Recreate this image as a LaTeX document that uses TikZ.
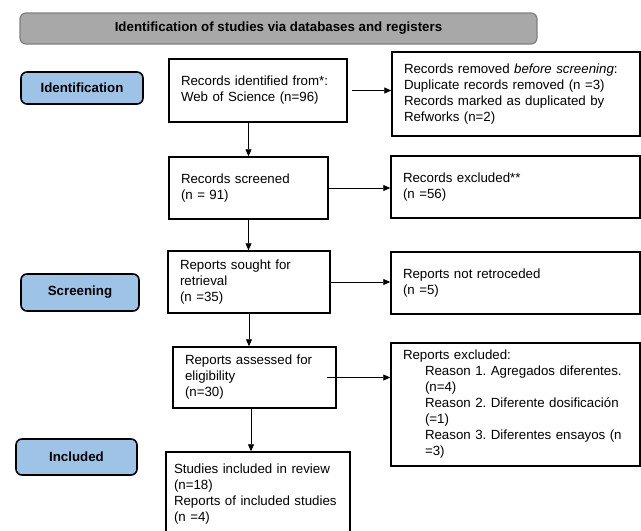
\documentclass[tikz,border=0pt]{standalone}
\usepackage{fontspec}
\setmainfont{Liberation Sans}
\frenchspacing
\usetikzlibrary{arrows.meta,positioning,calc}
\definecolor{prisma-blue}{HTML}{9DC3E6}
\definecolor{prisma-grey}{HTML}{A8A8A8}
\definecolor{prisma-edge}{HTML}{808080}

\begin{document}
\begin{tikzpicture}[x=1pt, y=-1pt, font=\fontsize{13.3}{16}\selectfont,
    recbox/.style={draw, line width=1.5pt, align=left, inner xsep=12pt, inner ysep=3pt},
    phase/.style={draw, line width=1.6pt, rounded corners=6pt, fill=prisma-blue, font=\fontsize{13.3}{16}\selectfont\bfseries},
    banner/.style={draw=prisma-edge, line width=1.2pt, rounded corners=6pt, fill=prisma-grey, font=\fontsize{13.3}{16}\selectfont\bfseries},
    flow/.style={-{Triangle[length=7pt,width=6pt]}, line width=0.9pt}]

    \useasboundingbox (0,0) rectangle (641,531);
    \clip (0,0) rectangle (641,531);

    \node[banner, minimum width=517pt, minimum height=31pt] (head) at (278.5,28.5) {Identification of studies via databases and registers};

    \node[phase, minimum width=122pt, minimum height=32pt] (identification) at (82,88) {Identification};
    \node[phase, minimum width=118pt, minimum height=37pt] (screening) at (80,292.5) {Screening};
    \node[phase, minimum width=121pt, minimum height=36pt] (included) at (76.5,457) {Included};

    \node[recbox, text width=154pt, minimum height=63pt] (found) at (258,90.5) {Records identified from*:\\ Web of Science (n=96)};
    \node[recbox, text width=224pt, minimum height=84pt] (removed) at (516,94) {Records removed \emph{before screening}:\\ Duplicate records removed (n =3)\\ Records marked as duplicated by\\ Refworks (n=2)};

    \node[recbox, text width=135pt, minimum height=62pt] (screened) at (248.5,188) {Records screened\\ (n = 91)};
    \node[recbox, text width=225pt, minimum height=62pt] (excluded) at (515.5,187) {Records excluded**\\ (n =56)};

    \node[recbox, text width=138pt, minimum height=62pt] (sought) at (249,282) {Reports sought for\\ retrieval\\ (n =35)};
    \node[recbox, text width=225pt, minimum height=62pt] (notretrieved) at (515.5,283) {Reports not retroceded\\ (n =5)};

    \node[recbox, text width=139pt, minimum height=61pt] (assessed) at (254.5,377.5) {Reports assessed for\\ eligibility\\ (n=30)};
    \node[recbox, text width=225pt, minimum height=123pt] (reasons) at (515.5,404.5) {Reports excluded:\\
        \hspace*{22pt}Reason 1. Agregados diferentes.\\
        \hspace*{22pt}(n=4)\\
        \hspace*{22pt}Reason 2. Diferente dosificación\\
        \hspace*{22pt}(=1)\\
        \hspace*{22pt}Reason 3. Diferentes ensayos (n\\
        \hspace*{22pt}=3)};

    \node[recbox, inner xsep=8pt, text width=168pt, minimum height=84pt] (studies) at (258,494) {Studies included in review\\ (n=18)\\ Reports of included studies\\ (n =4)};

    \coordinate (drop) at ([xshift=-3.5pt]assessed.south);

    \draw[flow] ([xshift=4pt]found.east) -- (found.east -| removed.west);
    \draw[flow] (screened.north |- found.south) -- (screened.north);
    \draw[flow] (screened.east) -- (screened.east -| excluded.west);
    \draw[flow] (screened.south) -- (screened.south |- sought.north);
    \draw[flow] (sought.east) -- (sought.east -| notretrieved.west);
    \draw[flow] (sought.south) -- (sought.south |- assessed.north);
    \draw[flow] ([xshift=-10pt]assessed.east) -- (assessed.east -| reasons.west);
    \draw[flow] (drop) -- (drop |- studies.north);

\end{tikzpicture}
\end{document}
